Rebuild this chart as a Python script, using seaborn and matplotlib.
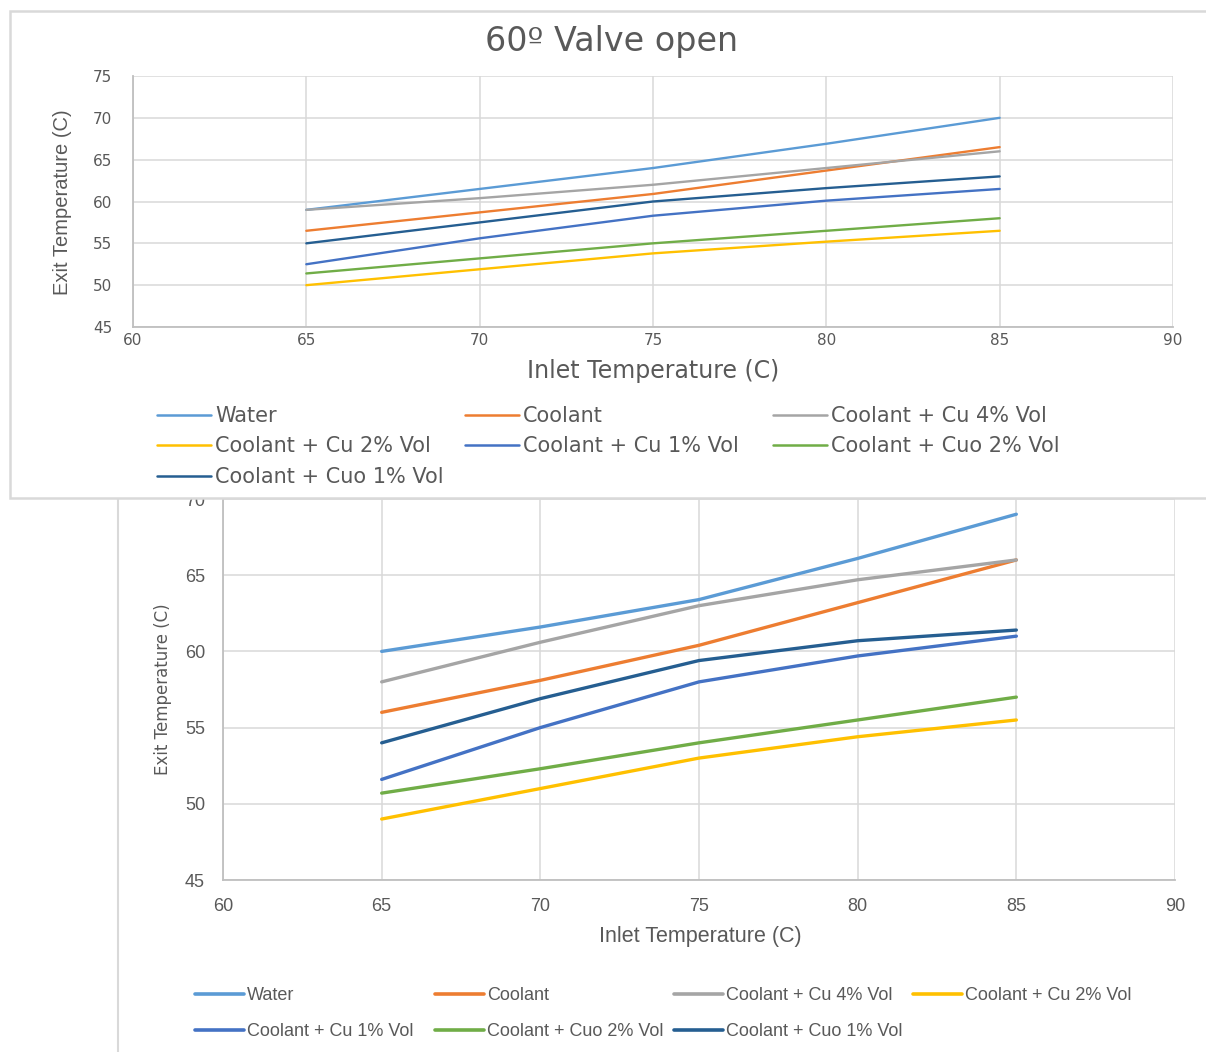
import pandas as pd
import matplotlib.pyplot as plt
import seaborn as sns
from matplotlib.patches import Rectangle

# shared x values and series names
inlet = [65, 70, 75, 80, 85]
series = ["Water", "Coolant", "Coolant + Cu 4% Vol", "Coolant + Cu 2% Vol",
          "Coolant + Cu 1% Vol", "Coolant + Cuo 2% Vol", "Coolant + Cuo 1% Vol"]
colors = ["#5B9BD5", "#ED7D31", "#A5A5A5", "#FFC000", "#4472C4", "#70AD47", "#255E91"]

# top chart: 60 deg valve open
water_top = [59.0, 61.5, 64.0, 66.9, 70.0]
coolant_top = [56.5, 58.7, 60.9, 63.7, 66.5]
cu4_top = [59.0, 60.4, 62.0, 64.0, 66.0]
cu2_top = [50.0, 51.9, 53.8, 55.2, 56.5]
cu1_top = [52.5, 55.6, 58.3, 60.1, 61.5]
cuo2_top = [51.4, 53.2, 55.0, 56.5, 58.0]
cuo1_top = [55.0, 57.5, 60.0, 61.6, 63.0]

# bottom chart (title cut off in the screenshot)
water_bot = [60.0, 61.6, 63.4, 66.1, 69.0]
coolant_bot = [56.0, 58.1, 60.4, 63.2, 66.0]
cu4_bot = [58.0, 60.6, 63.0, 64.7, 66.0]
cu2_bot = [49.0, 51.0, 53.0, 54.4, 55.5]
cu1_bot = [51.6, 55.0, 58.0, 59.7, 61.0]
cuo2_bot = [50.7, 52.3, 54.0, 55.5, 57.0]
cuo1_bot = [54.0, 56.9, 59.4, 60.7, 61.4]

x_ticks = [60, 65, 70, 75, 80, 85, 90]
y_ticks_top = [45, 50, 55, 60, 65, 70, 75]
y_ticks_bot = [45, 50, 55, 60, 65, 70]


def to_long(columns):
    rows = []
    for name, vals in zip(series, columns):
        for x, y in zip(inlet, vals):
            rows.append({"Inlet": x, "Exit": y, "Series": name})
    return pd.DataFrame(rows)


top_df = to_long([water_top, coolant_top, cu4_top, cu2_top, cu1_top, cuo2_top, cuo1_top])
bot_df = to_long([water_bot, coolant_bot, cu4_bot, cu2_bot, cu1_bot, cuo2_bot, cuo1_bot])
palette = dict(zip(series, colors))

sns.set_style("white")
plt.rcParams["font.family"] = ["DejaVu Sans"]
TXT = "#595959"
GRID = "#D9D9D9"
AXIS = "#BFBFBF"
NARROW = ["Liberation Sans Narrow", "Liberation Sans"]
REG = ["Liberation Sans", "DejaVu Sans"]

W, H = 1206, 1052
fig = plt.figure(figsize=(W / 100, H / 100), dpi=100)


def axes_px(left, top, right, bottom):
    return fig.add_axes([left / W, 1 - bottom / H, (right - left) / W, (bottom - top) / H])


def style_axes(ax, yticks, size, pad_x, pad_y):
    ax.set_xlim(60, 90)
    ax.set_ylim(yticks[0], yticks[-1])
    ax.set_xticks(x_ticks)
    ax.set_yticks(yticks)
    ax.grid(True, color=GRID, linewidth=1.1)
    ax.set_axisbelow(True)
    for s in ["top", "right"]:
        ax.spines[s].set_visible(False)
    for s in ["left", "bottom"]:
        ax.spines[s].set_color(AXIS)
        ax.spines[s].set_linewidth(1.3)
    ax.tick_params(axis="both", length=0, colors=TXT, labelsize=size)
    ax.tick_params(axis="x", pad=pad_x)
    ax.tick_params(axis="y", pad=pad_y)


def column_legends(handles, labels, ncol, xs, top_y, size, family, spacing, hlen):
    for c in range(ncol):
        hs = handles[c::ncol]
        ls = labels[c::ncol]
        fig.legend(hs, ls, loc="upper left", bbox_to_anchor=(xs[c] / W, 1 - top_y / H),
                   frameon=False, borderpad=0, borderaxespad=0, handlelength=hlen,
                   handletextpad=0.2, labelspacing=spacing,
                   prop={"family": family, "size": size}, labelcolor=TXT)


# frames of the two pasted charts
fig.add_artist(Rectangle((118 / W, -0.1), 1.0, 1 - 480 / H + 0.1, transform=fig.transFigure,
                         facecolor="none", edgecolor=GRID, linewidth=1.5, zorder=-1))
fig.add_artist(Rectangle((10 / W, 1 - 498 / H), 1.0, (498 - 11) / H, transform=fig.transFigure,
                         facecolor="white", edgecolor=GRID, linewidth=1.8, zorder=1))

# ---- bottom chart ----
ax2 = axes_px(223, 499, 1175, 880)
ax2.set_zorder(0)
sns.lineplot(data=bot_df, x="Inlet", y="Exit", hue="Series", hue_order=series,
             palette=palette, linewidth=2.4, ax=ax2)
h2, l2 = ax2.get_legend_handles_labels()
ax2.get_legend().remove()
style_axes(ax2, y_ticks_bot, 13, 13, 13)
for lbl in ax2.get_xticklabels() + ax2.get_yticklabels():
    lbl.set_fontfamily(REG)
ax2.set_xlabel("Inlet Temperature (C)", fontsize=15.5, color=TXT, family=NARROW, va="center")
ax2.xaxis.set_label_coords(0.501, -0.1496)
ax2.set_ylabel("Exit Temperature (C)", fontsize=12, color=TXT, va="center")
ax2.yaxis.set_label_coords(-0.063, 0.5)
for h in h2:
    h.set_linewidth(2.6)
column_legends(h2, l2, 4, [195, 435, 674, 913], 987, 13, REG, 1.07, 2.7)

# ---- top chart ----
ax1 = axes_px(133, 76, 1173, 327)
ax1.set_zorder(2)
sns.lineplot(data=top_df, x="Inlet", y="Exit", hue="Series", hue_order=series,
             palette=palette, linewidth=1.7, ax=ax1)
h1, l1 = ax1.get_legend_handles_labels()
ax1.get_legend().remove()
style_axes(ax1, y_ticks_top, 11, 4, 15)
ax1.set_title("60º Valve open", fontsize=24, color=TXT, x=(612 - 133) / 1040, pad=18)
ax1.set_xlabel("Inlet Temperature (C)", fontsize=17, color=TXT, va="center")
ax1.xaxis.set_label_coords(0.5, -0.175)
ax1.set_ylabel("Exit Temperature (C)", fontsize=14.5, color=TXT, family=NARROW, va="center")
ax1.yaxis.set_label_coords(-0.0678, 0.496)
for h in h1:
    h.set_linewidth(1.8)
column_legends(h1, l1, 3, [157, 465, 773], 406, 15, ["DejaVu Sans"], 0.5, 2.6)

fig.savefig("out.png", dpi=100)
